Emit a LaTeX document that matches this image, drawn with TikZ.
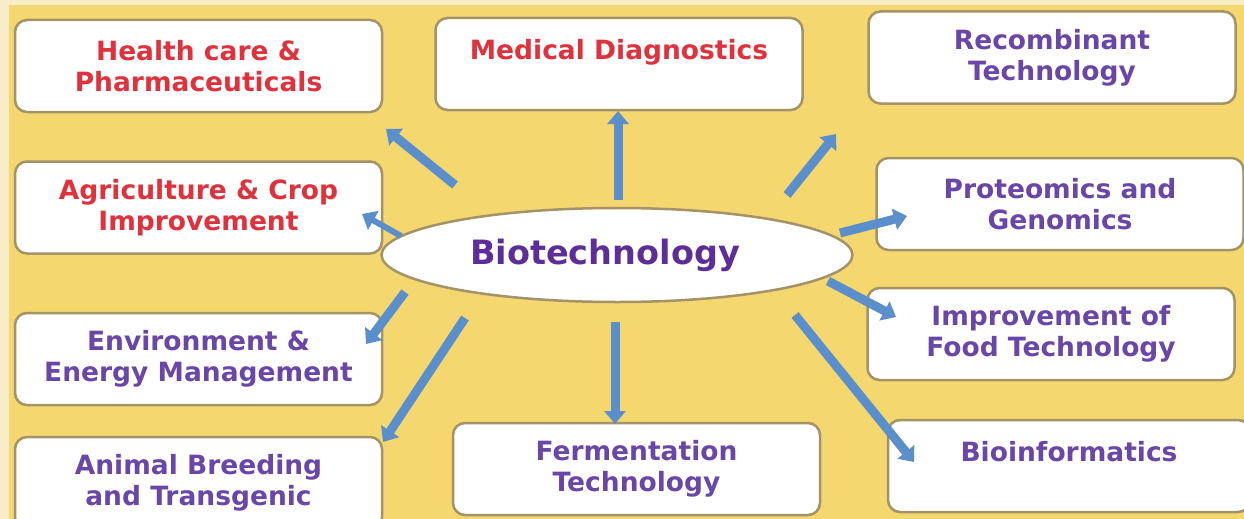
\documentclass[tikz,border=0pt]{standalone}
\usepackage{fontspec}
\setmainfont{DejaVu Sans}
\usetikzlibrary{arrows.meta,shapes.geometric}
\definecolor{bgyellow}{HTML}{F5D76F}
\definecolor{bgpale}{HTML}{F8EDC8}
\definecolor{boxline}{HTML}{A39366}
\definecolor{redtxt}{HTML}{E0323C}
\definecolor{purptxt}{HTML}{6A46A8}
\definecolor{biotxt}{HTML}{5E2E98}
\definecolor{arrowblue}{HTML}{5B8FCB}
\tikzset{
  topic/.style={draw=boxline, line width=2.5pt, fill=white, rounded corners=12pt,
    minimum width=367pt, minimum height=92pt, align=center, inner sep=0pt,
    font=\fontsize{26.5}{31}\selectfont\bfseries},
  redt/.style={text=redtxt},
  purt/.style={text=purptxt},
  arr/.style={draw=arrowblue, line width=9pt,
    -{Triangle[width=21pt,length=13pt]}},
}
\begin{document}
\begin{tikzpicture}[x=1pt,y=-1pt]
\useasboundingbox (0,0) rectangle (1244,519);
\fill[bgpale] (0,0) rectangle (1244,519);
\fill[bgyellow] (9,5) rectangle (1244,519);

\node[topic,redt] (hc) at (198.5,66) {Health care \&\\Pharmaceuticals};
\node[topic,redt] (md) at (619,64) {Medical Diagnostics\\[-12pt]\strut};
\node[topic,purt] (rt) at (1052,57.5) {Recombinant\\Technology};
\node[topic,redt] (ag) at (198.5,207.5) {Agriculture \& Crop\\Improvement};
\node[topic,purt] (pg) at (1060,204) {Proteomics and\\Genomics};
\node[topic,purt] (env) at (198.5,359) {Environment \&\\Energy Management};
\node[topic,purt] (food) at (1051,334) {Improvement of\\Food Technology};
\node[topic,purt] (an) at (198.5,483) {Animal Breeding\\and Transgenic};
\node[topic,purt] (fer) at (636.5,469) {Fermentation\\Technology};
\node[topic,purt,minimum width=362pt] (bi) at (1069,466) {Bioinformatics\\[-12pt]\strut};

\node[ellipse, draw=boxline, line width=2.5pt, fill=white, minimum width=471pt,
  minimum height=94pt, inner sep=0pt, text=biotxt,
  font=\fontsize{33.5}{36}\selectfont\bfseries] (bio) at (617,255) {Biotechnology\hspace*{24pt}};

\coordinate (s1) at (455,185); \coordinate (e1) at (386,129);
\coordinate (s2) at (618,200); \coordinate (e2) at (618,111);
\coordinate (s3) at (787,195); \coordinate (e3) at (836,134);
\coordinate (s4) at (401,236); \coordinate (e4) at (362,214);
\coordinate (s5) at (840,233); \coordinate (e5) at (907,216);
\coordinate (s6) at (828,281); \coordinate (e6) at (896,317);
\coordinate (s7) at (405,292); \coordinate (e7) at (366,344);
\coordinate (s8) at (465,318); \coordinate (e8) at (383,442);
\coordinate (s9) at (615,322); \coordinate (e9) at (615,424);
\coordinate (s10) at (795,315); \coordinate (e10) at (914,462);

\draw[arr] (s1) -- (e1);
\draw[arr] (s2) -- (e2);
\draw[arr] (s3) -- (e3);
\draw[arr, line width=6pt] (s4) -- (e4);
\draw[arr] (s5) -- (e5);
\draw[arr] (s6) -- (e6);
\draw[arr] (s7) -- (e7);
\draw[arr] (s8) -- (e8);
\draw[arr] (s9) -- (e9);
\draw[arr] (s10) -- (e10);
\end{tikzpicture}
\end{document}
